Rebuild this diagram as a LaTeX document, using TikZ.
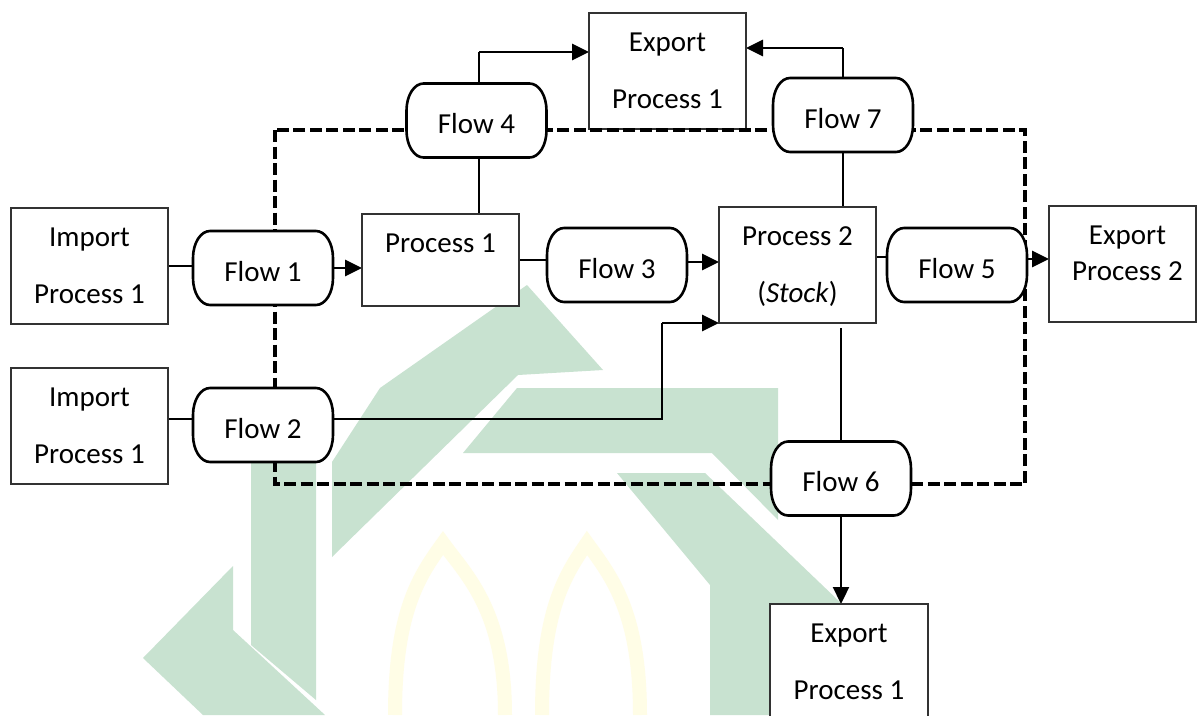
\documentclass[tikz,border=0pt]{standalone}
\usepackage{fontspec}
\setmainfont{Carlito}
\usetikzlibrary{arrows.meta}
\pgfdeclarelayer{wm}
\pgfdeclarelayer{lines}
\pgfdeclarelayer{boxes}
\pgfdeclarelayer{dashes}
\pgfdeclarelayer{flowshapes}
\pgfsetlayers{wm,lines,boxes,dashes,flowshapes,main}
\definecolor{wmgreen}{RGB}{200,226,208}
\definecolor{wmyellow}{RGB}{255,253,230}
\definecolor{boxline}{RGB}{50,50,50}
% outline of a flow node: rectangle with elliptical corners
\newcommand\flowoutline[1]{%
  \filldraw[flowline]
    ([xshift=17pt]#1.north west) -- ([xshift=-17pt]#1.north east)
    arc[start angle=90, end angle=0, x radius=17pt, y radius=27pt]
    -- ([yshift=27pt]#1.south east)
    arc[start angle=0, end angle=-90, x radius=17pt, y radius=27pt]
    -- ([xshift=17pt]#1.south west)
    arc[start angle=270, end angle=180, x radius=17pt, y radius=27pt]
    -- ([yshift=-27pt]#1.north west)
    arc[start angle=180, end angle=90, x radius=17pt, y radius=27pt]
    -- cycle;}
\begin{document}
\begin{tikzpicture}[x=1pt,y=-1pt,
  procbox/.style={draw=boxline, line width=1.3pt, fill=white, inner sep=0pt, outer sep=0pt,
    align=center, font=\fontsize{29}{57}\selectfont, text depth=0pt},
  flowbox/.style={minimum width=140pt, minimum height=74pt, inner sep=0pt, outer sep=0pt,
    font=\fontsize{29}{35}\selectfont, text height=26pt, text depth=0pt},
  flowline/.style={draw=black, fill=white, line width=2.6pt},
  thinline/.style={line width=1.3pt},
  midline/.style={line width=2.3pt},
  thickline/.style={line width=2.7pt},
  arrowhd/.style={-{Triangle[length=17pt,width=16pt]}},
  dashbound/.style={line width=4.5pt, dash pattern=on 12pt off 4.5pt},
  wmfill/.style={fill=wmgreen, draw=none},
  wmarch/.style={draw=wmyellow, line width=14pt}]

\useasboundingbox (0,0) rectangle (1197,715);

% ---------- process boxes ----------
\begin{pgfonlayer}{boxes}
\node[procbox, minimum width=157pt, minimum height=116pt] (imp1) at (89.5,266) {Import\\Process 1};
\node[procbox, minimum width=157pt, minimum height=116pt] (imp2) at (89.5,426) {Import\\Process 1};
\node[procbox, minimum width=157pt, minimum height=92pt,
  label={[name=p1txt, font=\fontsize{29}{57}\selectfont, yshift=17pt]center:Process 1}] (p1) at (440.5,260) {};
\node[procbox, minimum width=157pt, minimum height=116pt] (exp1t) at (667.5,71) {Export\\Process 1};
\node[procbox, minimum width=157pt, minimum height=116pt] (p2) at (797.5,265) {Process 2\\(\textit{Stock})};
\node[procbox, minimum width=147pt, minimum height=116pt,
  label={[name=exp2txt, align=center, font=\fontsize{29}{36}\selectfont, text depth=0pt, xshift=5pt, yshift=11pt]center:Export\\Process 2}] (exp2) at (1122.5,264) {};
\node[procbox, minimum width=158pt, minimum height=116pt] (exp1b) at (849,662) {Export\\Process 1};
\end{pgfonlayer}

% ---------- flow nodes (text) ----------
\node[flowbox] (f1) at (263,268) {Flow 1};
\node[flowbox] (f2) at (263,425) {Flow 2};
\node[flowbox] (f3) at (617,265) {Flow 3};
\node[flowbox] (f4) at (476.5,120.5) {Flow 4};
\node[flowbox] (f5) at (957,265) {Flow 5};
\node[flowbox] (f6) at (841,478.5) {Flow 6};
\node[flowbox] (f7) at (843,115) {Flow 7};

% ---------- flow node outlines ----------
\begin{pgfonlayer}{flowshapes}
\flowoutline{f1}
\flowoutline{f2}
\flowoutline{f3}
\flowoutline{f4}
\flowoutline{f5}
\flowoutline{f6}
\flowoutline{f7}
\end{pgfonlayer}

% ---------- helper coordinates ----------
\coordinate (c2) at (662,323);
\coordinate (c4) at (479,52);
\coordinate (c7) at (843,48);
\coordinate (c6) at (841,328);
\coordinate (dtl) at (275,130);
\coordinate (dbr) at (1025,484);

% ---------- connectors ----------
\begin{pgfonlayer}{lines}
\draw[thickline] (imp1.east) -- (imp1.east -| f1.west);
\draw[thickline, arrowhd] (f1.east) -- (f1.east -| p1.west);
\draw[thinline] ([yshift=7pt]imp2.east) -- ([yshift=7pt]imp2.east -| f2.west);
\draw[thinline] ([yshift=6pt]f2.east) -| (c2);
\draw[thickline, arrowhd] (c2) -- (c2 -| p2.west);
\draw[thickline] (p1.east) -- (p1.east -| f3.west);
\draw[thickline, arrowhd] ([yshift=3pt]f3.east) -- ([yshift=3pt]f3.east -| p2.west);
\draw[thinline] ([xshift=2.5pt]f4.south) -- ([xshift=2.5pt]f4.south |- p1.north);
\draw[thinline] ([xshift=2.5pt]f4.north) -- (c4);
\draw[thickline, arrowhd] (c4) -- (c4 -| exp1t.west);
\draw[thinline] (f7.north) -- (c7);
\draw[thickline, arrowhd] (c7) -- (c7 -| exp1t.east);
\draw[thinline] (f7.south) -- (f7.south |- p2.north);
\draw[midline] ([yshift=8pt]p2.east) -- ([yshift=8pt]p2.east -| f5.west);
\draw[thickline, arrowhd] ([yshift=6pt]f5.east) -- ([yshift=6pt]f5.east -| exp2.west);
\draw[midline] (c6) -- (f6.north);
\draw[midline, arrowhd] (f6.south) -- (f6.south |- exp1b.north);
\end{pgfonlayer}

% ---------- dashed system boundary ----------
\begin{pgfonlayer}{dashes}
\draw[dashbound] (dtl) rectangle (dbr);
\end{pgfonlayer}

% ---------- watermark ----------
\begin{pgfonlayer}{wm}
\fill[white] (0,0) rectangle (1197,715);
\fill[wmfill] (143,658) -- (233,566) -- (233,630) -- (325,715) -- (203,715) -- cycle;
\fill[wmfill] (251,388) -- (316,388) -- (316,700) -- (251,645) -- cycle;
\fill[wmfill] (332,462) -- (380,388) -- (527,285) -- (603,370) -- (518,375) -- (332,557) -- cycle;
\fill[wmfill] (463,453) -- (517,388) -- (778,388) -- (778,520) -- (712,453) -- cycle;
\fill[wmfill] (617,473) -- (705,473) -- (843,605) -- (770,605) -- (770,715) -- (710,715) -- (710,585) -- cycle;
\draw[wmarch] (395,715) .. controls (395,610) and (420,575) .. (443,543) .. controls (466,575) and (505,610) .. (505,715);
\draw[wmarch] (542,715) .. controls (542,610) and (565,575) .. (587,543) .. controls (610,575) and (640,610) .. (640,715);
\end{pgfonlayer}
\end{tikzpicture}
\end{document}
